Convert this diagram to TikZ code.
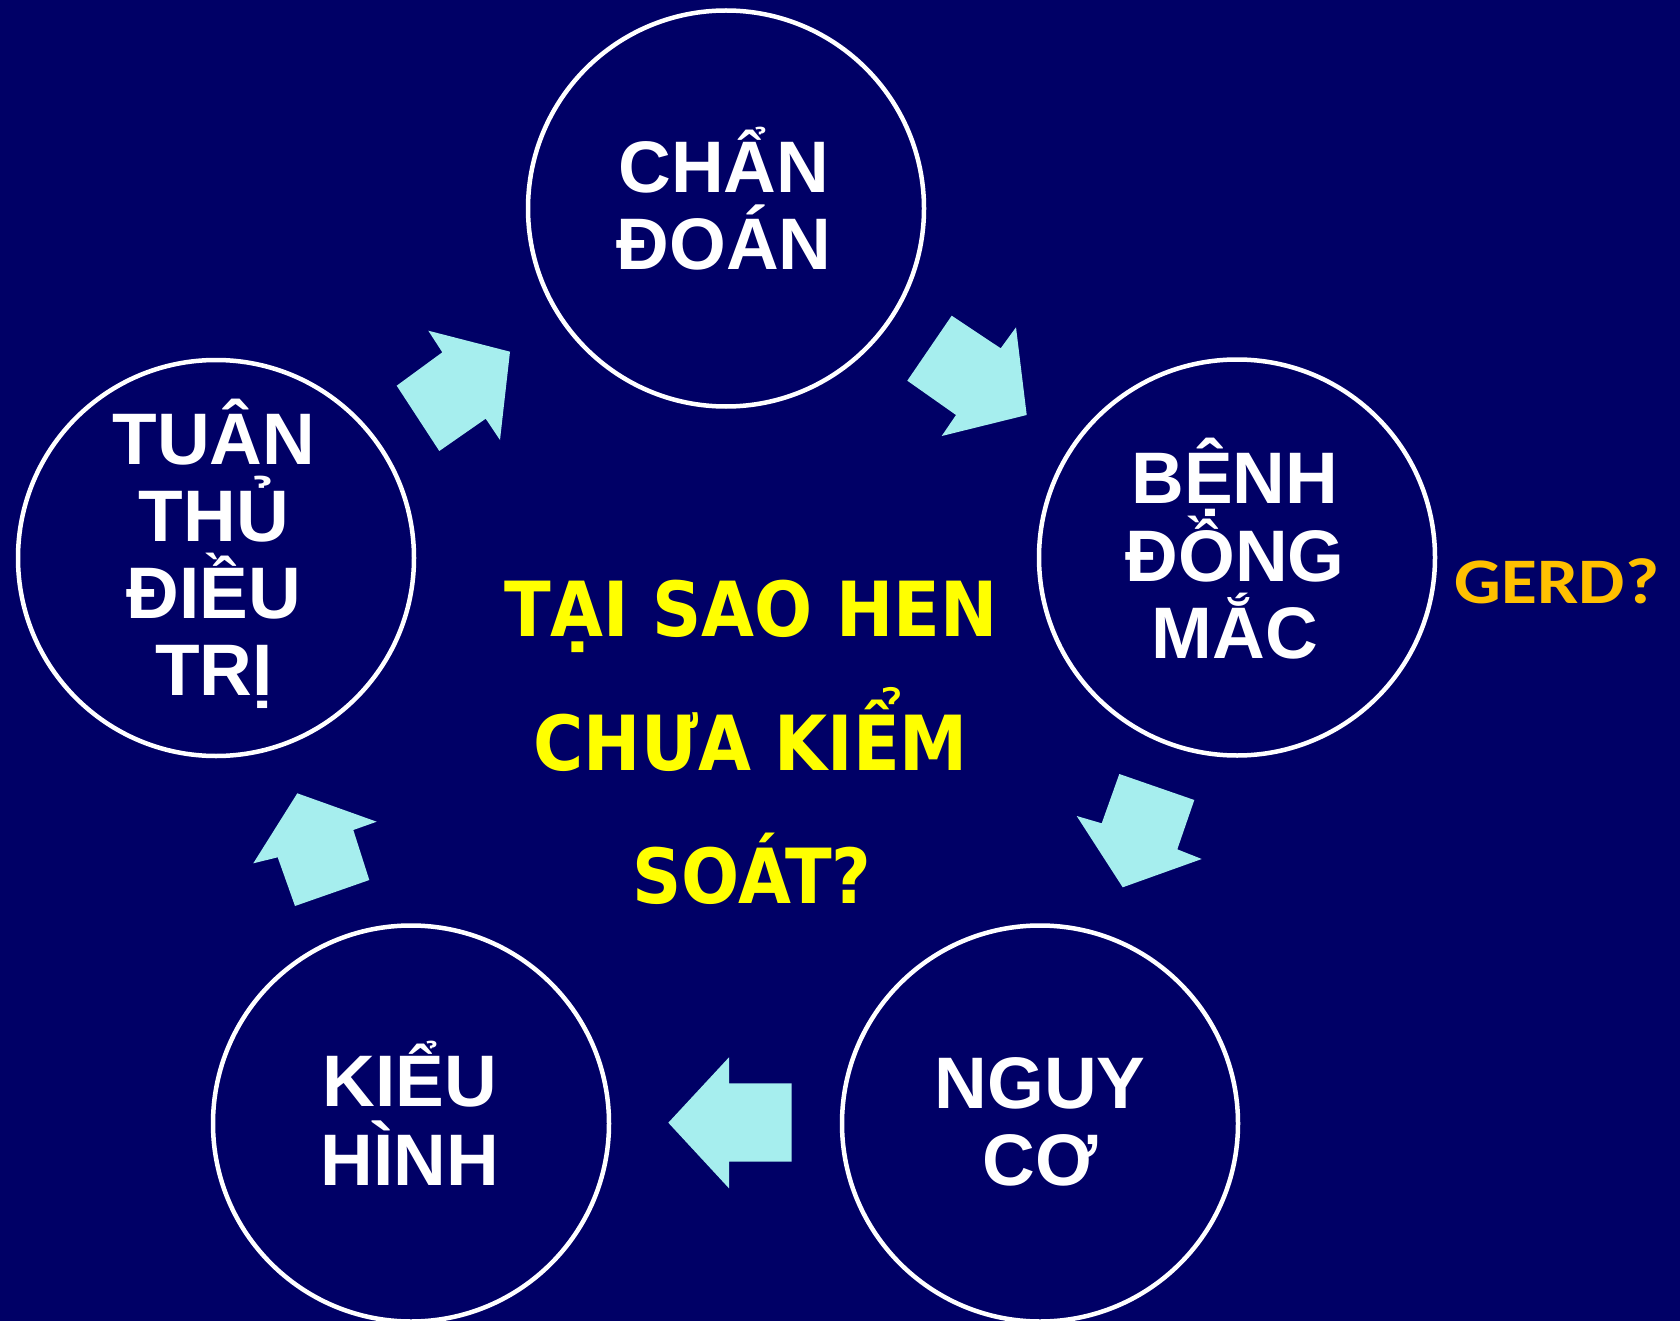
\documentclass[tikz,border=0pt]{standalone}
\usepackage{fontspec}
\setmainfont{Liberation Sans}
\newfontfamily\yfont{DejaVu Sans Condensed}
\newfontfamily\gfont{Carlito}
\definecolor{bgblue}{RGB}{0,0,102}
\definecolor{arrcyan}{RGB}{166,238,238}
\definecolor{ylw}{RGB}{255,255,0}
\definecolor{gerdorange}{RGB}{255,192,0}
\begin{document}
\begin{tikzpicture}[x=1pt,y=-1pt,
  ring/.style={circle,draw=white,line width=4.5pt,minimum size=396pt,inner sep=0pt},
  wtxt/.style={anchor=base,text=white,font=\bfseries\fontsize{73}{77}\selectfont,inner sep=0pt},
  ytxt/.style={anchor=base,text=ylw,font=\yfont\bfseries\fontsize{76}{80}\selectfont,inner sep=0pt},
  blk/.style={fill=arrcyan,draw=none}]
\fill[bgblue] (0,0) rectangle (1680,1321);
\useasboundingbox (0,0) rectangle (1680,1321);

% circles
\node[ring] (c1) at (726,208.5) {};
\node[ring] (c2) at (216,558) {};
\node[ring] (c3) at (1237,557.5) {};
\node[ring] (c4) at (411,1123.5) {};
\node[ring] (c5) at (1040,1123.5) {};

% circle texts
\node[wtxt] (t1a) at (724,192.7) {CHẨN};
\node[wtxt] (t1b) at (724,270) {ĐOÁN};
\node[wtxt] (t2a) at (214,464.3) {TUÂN};
\node[wtxt] (t2b) at (214,541) {THỦ};
\node[wtxt] (t2c) at (214,618.3) {ĐIỀU};
\node[wtxt] (t2d) at (214,695) {TRỊ};
\node[wtxt] (t3a) at (1235,503.3) {BỆNH};
\node[wtxt] (t3b) at (1235,581.7) {ĐỒNG};
\node[wtxt] (t3c) at (1235,658.3) {MẮC};
\node[wtxt] (t4a) at (410,1106.7) {KIỂU};
\node[wtxt] (t4b) at (410,1185) {HÌNH};
\node[wtxt] (t5a) at (1040,1108) {NGUY};
\node[wtxt] (t5b) at (1040,1185) {CƠ};

% centre question
\node[ytxt] (q1) at (751,636) {TẠI SAO HEN};
\node[ytxt] (q2) at (751,770) {CHƯA KIỂM};
\node[ytxt] (q3) at (752,903.3) {SOÁT?};

% GERD
\node[anchor=base,text=gerdorange,inner sep=0pt,font=\gfont\bfseries\fontsize{65}{70}\selectfont] (gerd) at (1557,603.3) {\scalebox{1.13}[1]{GERD?}};

% block arrows
\fill[blk] (396.7,385.7) -- (442.3,352.3) -- (428.3,330.7) -- (510,351.7) -- (500,440) -- (485.7,418.7) -- (439.3,451) -- cycle;
\fill[blk] (907.3,380.7) -- (951.7,315.7) -- (1000.7,348.3) -- (1016,327.3) -- (1026.7,415) -- (941.7,436) -- (956,415) -- cycle;
\fill[blk] (1119.3,774) -- (1194.3,800) -- (1177.3,849.3) -- (1201.7,859) -- (1122.7,887.3) -- (1076.7,816) -- (1101.7,823.3) -- cycle;
\fill[blk] (791.7,1083.3) -- (791.7,1161.7) -- (729,1161.7) -- (729,1188.3) -- (668.3,1122.7) -- (729,1057.3) -- (729,1083.3) -- cycle;
\fill[blk] (297.3,793.3) -- (376.7,821.7) -- (353.3,830) -- (369.3,880) -- (295,906) -- (277.7,857.3) -- (253.3,863.3) -- cycle;
\end{tikzpicture}
\end{document}
